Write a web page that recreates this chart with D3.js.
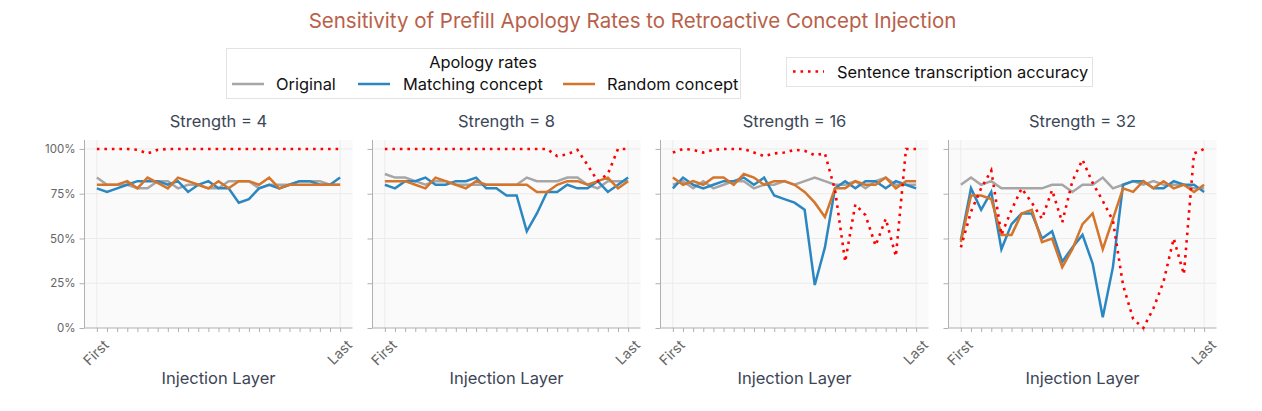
<!DOCTYPE html>
<html>
<head>
<meta charset="utf-8">
<script src="https://cdn.jsdelivr.net/npm/d3@7"></script>
<style>
  html, body { margin: 0; padding: 0; background: #ffffff; }
  svg { display: block; font-family: "Inter", "Lato", sans-serif; }
</style>
</head>
<body>
<svg id="chart" width="1262" height="411"></svg>
<script>
// ---------------- data ----------------
const strengths = [4, 8, 16, 32];
const layers = d3.range(25);          // 25 injection layers, First .. Last
const yTicks = [0, 25, 50, 75, 100];
const seriesNames = ["Original", "Matching concept", "Random concept"];
const accuracyName = "Sentence transcription accuracy";

// apology rates (%) per strength panel
const original = [
  [84,80,80,80,78,78,82,82,78,80,80,78,78,82,82,82,78,80,80,80,82,82,82,80,80],
  [86,84,84,82,80,82,82,80,80,80,80,80,80,80,84,82,82,82,84,84,80,78,82,82,82],
  [80,82,78,82,78,80,82,82,78,80,80,82,80,82,84,82,80,80,82,78,82,84,80,80,80],
  [80,84,80,82,78,78,78,78,78,80,80,76,80,80,84,78,80,82,80,82,80,80,80,78,78]
];
const matching = [
  [78,76,78,80,82,82,82,80,82,76,80,82,78,78,70,72,78,80,78,80,82,82,80,80,84],
  [80,78,82,82,84,80,80,82,82,84,78,78,74,74,54,64,76,76,80,78,78,82,76,80,84],
  [78,84,80,78,80,82,82,84,80,84,74,72,70,66,24,45,78,82,78,82,82,78,82,80,78],
  [49,78,66,76,44,58,64,64,50,54,37,45,52,36,6,34,80,82,82,78,78,82,80,80,76]
];
const random = [
  [80,80,80,82,78,84,81,78,84,82,80,78,82,78,82,82,80,84,78,80,80,80,80,80,80],
  [82,82,82,80,78,84,82,80,78,82,80,80,80,80,80,76,76,80,82,82,80,82,84,78,82],
  [84,80,82,80,84,84,80,86,84,80,82,82,80,76,70,62,78,78,82,80,80,84,78,82,82],
  [48,74,74,72,52,52,64,66,48,50,34,44,58,64,44,61,78,76,82,78,82,78,80,76,80]
];
// sentence transcription accuracy (%)
const accuracy = [
  [100,100,100,100,99.5,97.5,99.5,100,100,100,100,100,100,100,100,100,100,100,100,100,100,100,100,100,100],
  [100,100,100,100,100,100,100,100,100,100,100,100,100,100,100,100,100,96,97,99.5,91,82,86,100,100],
  [98,100,99.5,98,99.5,100,100,100,98,96,97.5,98,99.5,99,96.5,97.5,77,37,69,63,46,61,40,100,100],
  [45,65,78,88,52,66,78,70,61,77,59,82,94,81,71,60,24,5,0,11,26,50,30,97.5,100]
];

// ---------------- styles ----------------
const colors = { orig: "#a6a6a6", match: "#2b87c1", rand: "#d5742b", acc: "#ff0000" };
const textDark = "#3b4656";

const svg = d3.select("#chart");

// title
svg.append("text")
  .attr("x", 632.5).attr("y", 28)
  .attr("text-anchor", "middle")
  .attr("font-size", 20.5)
  .attr("fill", "#b8614a")
  .text("Sensitivity of Prefill Apology Rates to Retroactive Concept Injection");

// ---------------- panels ----------------
const panelLeft0 = 84.5, panelStep = 288, pw = 268;
const plotTop = 140, plotBottom = 328;
const ph = plotBottom - plotTop;

const x = d3.scaleLinear().domain([-1.22, 25.22]).range([0, pw]);
const y = d3.scaleLinear().domain([0, 105]).range([ph, 0]);

const line = d3.line().x((d, i) => x(layers[i])).y(d => y(d));

strengths.forEach((s, p) => {
  const g = svg.append("g").attr("transform", `translate(${panelLeft0 + p * panelStep},${plotTop})`);

  g.append("rect").attr("x", 0).attr("y", 0).attr("width", pw).attr("height", ph).attr("fill", "#fafafa");

  // grid
  g.selectAll(".hg").data(yTicks.slice(1)).join("line")
    .attr("x1", 0).attr("x2", pw)
    .attr("y1", d => y(d)).attr("y2", d => y(d))
    .attr("stroke", "#ebebeb").attr("stroke-width", 1);
  g.selectAll(".vg").data([layers[0], layers[layers.length - 1]]).join("line")
    .attr("x1", d => x(d)).attr("x2", d => x(d))
    .attr("y1", 0).attr("y2", ph)
    .attr("stroke", "#ebebeb").attr("stroke-width", 1);

  // axes
  const yAxis = d3.axisLeft(y).tickValues(yTicks).tickSize(5).tickPadding(4)
    .tickFormat(d => p === 0 ? d + "%" : "");
  const ya = g.append("g").call(yAxis);
  ya.select(".domain").attr("stroke", "#b0b0b0").attr("d", `M0,0V${ph}`);
  ya.selectAll(".tick line").attr("stroke", "#b0b0b0");
  ya.selectAll(".tick text").attr("fill", "#666").attr("font-size", 11.5)
    .attr("font-family", "Inter, sans-serif");

  const xAxis = d3.axisBottom(x).tickValues(layers).tickSize(4).tickFormat("");
  const xa = g.append("g").attr("transform", `translate(0,${ph})`).call(xAxis);
  xa.select(".domain").attr("stroke", "#b0b0b0").attr("d", `M0,0H${pw}`);
  xa.selectAll(".tick line").attr("stroke", "#b0b0b0");

  // First / Last labels
  [[layers[0], "First"], [layers[layers.length - 1], "Last"]].forEach(([v, t]) => {
    g.append("text")
      .attr("transform", `translate(${x(v) + 5},${ph + 10}) rotate(-45)`)
      .attr("text-anchor", "end")
      .attr("dominant-baseline", "hanging")
      .attr("font-size", 14)
      .attr("fill", "#666")
      .text(t);
  });

  // axis label
  g.append("text")
    .attr("x", pw / 2).attr("y", ph + 56)
    .attr("text-anchor", "middle")
    .attr("font-size", 16.5)
    .attr("fill", textDark)
    .text("Injection Layer");

  // subplot title
  g.append("text")
    .attr("x", pw / 2).attr("y", -13)
    .attr("text-anchor", "middle")
    .attr("font-size", 16.5)
    .attr("fill", textDark)
    .text(`Strength = ${s}`);

  // lines
  const lw = 2.5;
  g.append("path").datum(original[p]).attr("d", line)
    .attr("fill", "none").attr("stroke", colors.orig).attr("stroke-width", lw);
  g.append("path").datum(matching[p]).attr("d", line)
    .attr("fill", "none").attr("stroke", colors.match).attr("stroke-width", lw);
  g.append("path").datum(random[p]).attr("d", line)
    .attr("fill", "none").attr("stroke", colors.rand).attr("stroke-width", lw);
  g.append("path").datum(accuracy[p]).attr("d", line)
    .attr("fill", "none").attr("stroke", colors.acc).attr("stroke-width", 2.6)
    .attr("stroke-dasharray", "2.6,4.9");
});

// ---------------- legends ----------------
const leg1 = svg.append("g");
leg1.append("rect").attr("x", 226.5).attr("y", 48.5).attr("width", 514).attr("height", 50)
  .attr("fill", "#fff").attr("stroke", "#e3e3e3");
leg1.append("text").attr("x", 483).attr("y", 67.5).attr("text-anchor", "middle")
  .attr("font-size", 16.4).attr("fill", "#111").text("Apology rates");
const legItems = [
  { name: seriesNames[0], color: colors.orig, x0: 232, tx: 276 },
  { name: seriesNames[1], color: colors.match, x0: 358, tx: 403 },
  { name: seriesNames[2], color: colors.rand, x0: 563, tx: 607 }
];
legItems.forEach(it => {
  leg1.append("line").attr("x1", it.x0).attr("x2", it.x0 + 32).attr("y1", 84).attr("y2", 84)
    .attr("stroke", it.color).attr("stroke-width", 2.5);
  leg1.append("text").attr("x", it.tx).attr("y", 90).attr("font-size", 16.4).attr("fill", "#111").text(it.name);
});

const leg2 = svg.append("g");
leg2.append("rect").attr("x", 786.5).attr("y", 57.5).attr("width", 306).attr("height", 29)
  .attr("fill", "#fff").attr("stroke", "#e3e3e3");
leg2.append("line").attr("x1", 793).attr("x2", 824).attr("y1", 71.5).attr("y2", 71.5)
  .attr("stroke", colors.acc).attr("stroke-width", 2.6).attr("stroke-dasharray", "2.6,4.9");
leg2.append("text").attr("x", 837).attr("y", 77.5).attr("font-size", 16.4).attr("fill", "#111").text(accuracyName);
</script>
</body>
</html>
